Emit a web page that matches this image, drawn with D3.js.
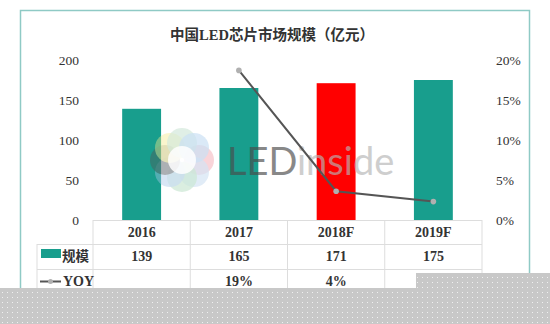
<!DOCTYPE html>
<html>
<head>
<meta charset="utf-8">
<script src="https://cdn.jsdelivr.net/npm/d3@7"></script>
<style>
  body { margin: 0; background: #fff; }
  text { font-family: "Liberation Serif", "Noto Sans CJK SC", serif; fill: #333; }
  text.wm { font-family: Lato, "Open Sans", sans-serif; }
</style>
</head>
<body>
<div id="chart"></div>
<script>
// 中国LED芯片市场规模
var w = 550, h = 324;

var years = ["2016", "2017", "2018F", "2019F"];
var scaleVals = [139, 165, 171, 175];
var yoyVals = [null, 18.7, 3.6, 2.3];
var yoyLabels = ["", "19%", "4%", "2%"];
var leftTicks = [0, 50, 100, 150, 200];
var rightTicks = [0, 5, 10, 15, 20];

var teal = "#189e8d", red = "#ff0000";

var svg = d3.select("#chart").append("svg")
  .attr("width", w).attr("height", h);

var x = d3.scaleBand().domain(years).range([93, 482])
  .paddingInner(0.6).paddingOuter(0.3);
var y = d3.scaleLinear().domain([0, 200]).range([220, 60]);
var yR = d3.scaleLinear().domain([0, 20]).range([220, 60]);

// frame
svg.append("rect").attr("x", 20.5).attr("y", 10.5)
  .attr("width", 509).attr("height", 300)
  .attr("fill", "none").attr("stroke", "#8fcac5").attr("stroke-width", 1.5);

svg.append("text").attr("x", 272).attr("y", 40)
  .attr("text-anchor", "middle").attr("font-size", 14.5)
  .attr("font-weight", "bold").text("中国LED芯片市场规模（亿元）");

// axes
var gl = svg.append("g").attr("transform", "translate(82,0)")
  .call(d3.axisLeft(y).tickValues(leftTicks).tickSize(0).tickPadding(3));
var gr = svg.append("g").attr("transform", "translate(493,0)")
  .call(d3.axisRight(yR).tickValues(rightTicks).tickSize(0).tickPadding(3)
    .tickFormat(function(d) { return d + "%"; }));
[gl, gr].forEach(function(g) {
  g.select(".domain").remove();
  g.selectAll("text").attr("font-size", 13.5).style("fill", "#333");
});

// bars
svg.selectAll("rect.bar").data(years).enter().append("rect")
  .attr("class", "bar")
  .attr("x", function(d) { return x(d); })
  .attr("width", x.bandwidth())
  .attr("y", function(d, i) { return y(scaleVals[i]); })
  .attr("height", function(d, i) { return y(0) - y(scaleVals[i]); })
  .attr("fill", function(d) { return d === "2018F" ? red : teal; });

// watermark
var wm = svg.append("g").attr("transform", "translate(182,160)").attr("opacity", 0.6);
var petals = ["#f29aa5", "#b9d3ee", "#a9d8b8", "#a7c6e8", "#555555", "#f3ea8a", "#b6dcc4", "#a8cdee"];
petals.forEach(function(c, i) {
  var a = i * Math.PI / 4;
  wm.append("circle").attr("cx", 17 * Math.cos(a)).attr("cy", 17 * Math.sin(a))
    .attr("r", 15).attr("fill", c).attr("opacity", 0.7);
});
wm.append("circle").attr("r", 14).attr("fill", "#fff").attr("opacity", 0.85);
var wt = svg.append("text").attr("class", "wm").attr("x", 227).attr("y", 175)
  .attr("font-size", 38).attr("opacity", 0.65);
wt.append("tspan").style("fill", "#4a4a4a").text("LED");
wt.append("tspan").style("fill", "#b5b5b5").text("inside");

// yoy line
var pts = years.map(function(d, i) { return { year: d, v: yoyVals[i] }; })
  .filter(function(d) { return d.v !== null; });
svg.append("path").datum(pts)
  .attr("fill", "none").attr("stroke", "#555").attr("stroke-width", 2)
  .attr("d", d3.line()
    .x(function(d) { return x(d.year) + x.bandwidth() / 2; })
    .y(function(d) { return yR(d.v); }));
svg.selectAll("circle.pt").data(pts).enter().append("circle")
  .attr("class", "pt").attr("r", 2.8)
  .attr("cx", function(d) { return x(d.year) + x.bandwidth() / 2; })
  .attr("cy", function(d) { return yR(d.v); })
  .attr("fill", "#b0b0b0");

// data table
var grid = "#dddddd";
var colEdges = years.map(function(d) { return x(d) - x.step() * x.paddingInner() / 2; });
colEdges.push(482);
var tb = svg.append("g").attr("stroke", grid).attr("stroke-width", 1);
tb.append("line").attr("x1", 93).attr("x2", 482).attr("y1", 220.5).attr("y2", 220.5);
[244.5, 269.5, 294.5].forEach(function(yy) {
  tb.append("line").attr("x1", 37).attr("x2", 482).attr("y1", yy).attr("y2", yy);
});
colEdges.forEach(function(xx) {
  tb.append("line").attr("x1", xx).attr("x2", xx).attr("y1", 220).attr("y2", 295);
});
tb.append("line").attr("x1", 37).attr("x2", 37).attr("y1", 244).attr("y2", 295);

function rowText(vals, yy) {
  svg.append("g").selectAll("text").data(vals).enter().append("text")
    .attr("x", function(d, i) { return x(years[i]) + x.bandwidth() / 2; })
    .attr("y", yy).attr("text-anchor", "middle").attr("font-size", 14)
    .attr("font-weight", "bold")
    .text(function(d) { return d; });
}
rowText(years, 237);
rowText(scaleVals, 261);
rowText(yoyLabels, 286);

// legend keys
svg.append("rect").attr("x", 41).attr("y", 249).attr("width", 20).attr("height", 9).attr("fill", teal);
svg.append("text").attr("x", 62).attr("y", 261).attr("font-size", 13.5).attr("font-weight", "bold").text("规模");
svg.append("line").attr("x1", 40).attr("x2", 61).attr("y1", 281.5).attr("y2", 281.5)
  .attr("stroke", "#555").attr("stroke-width", 2);
svg.append("circle").attr("cx", 50.5).attr("cy", 281.5).attr("r", 2.5).attr("fill", "#b0b0b0");
svg.append("text").attr("x", 63).attr("y", 286).attr("font-size", 14).attr("font-weight", "bold").text("YOY");

// dotted gray cover at the bottom
var defs = svg.append("defs");
var pat = defs.append("pattern").attr("id", "dots").attr("patternUnits", "userSpaceOnUse")
  .attr("width", 5).attr("height", 5);
pat.append("rect").attr("width", 5).attr("height", 5).attr("fill", "#c8c8c8");
pat.append("rect").attr("x", 2).attr("y", 2).attr("width", 1).attr("height", 1).attr("fill", "#f0f0f0");
svg.append("path").attr("fill", "url(#dots)")
  .attr("d", "M0,288H416V273H550V324H0Z");
</script>
</body>
</html>
